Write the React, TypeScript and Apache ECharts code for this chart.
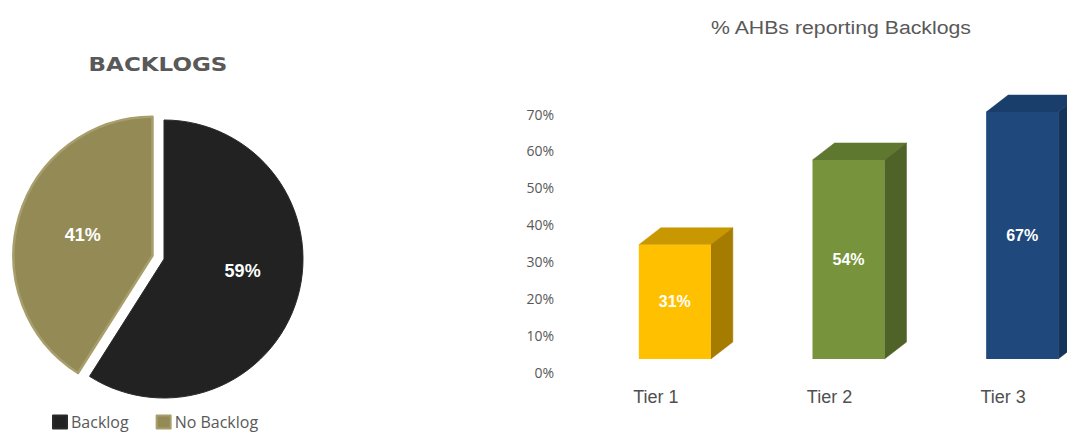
import React, { useEffect, useRef } from "react";
import * as echarts from "echarts";

// Pie: share of AHBs with / without a backlog
const pieNames = ["Backlog", "No Backlog"];
const pieValues = [59, 41];

// Bars: % AHBs reporting backlogs by tier
const tiers = ["Tier 1", "Tier 2", "Tier 3"];
const tierValues = [31, 54, 67];

// Y-axis range (percent)
const yMin = 0;
const yMax = 70;
const yStep = 10;

const pieColors = ["#222222", "#948A56"];
// front / top / side shades of each 3D bar
const barShades = [
  ["#FFC000", "#C99700", "#A67C00"],
  ["#77933C", "#5F7830", "#4F6228"],
  ["#1F497D", "#1A3E6B", "#16355C"],
];

export default function App() {
  const ref = useRef<HTMLDivElement>(null);

  useEffect(() => {
    if (!ref.current) return;
    const chart = echarts.init(ref.current, undefined, { renderer: "svg" });

    const labelOffsets = [
      [9, -8],
      [-13, -5],
    ];

    const renderBar = (params: any, api: any) => {
      const idx = params.dataIndex;
      const v = api.value(1);
      const top = api.coord([api.value(0), v]);
      const base = api.coord([api.value(0), 0]);
      const lift = 13;
      const dx = 22;
      const dy = -17;
      const fl = top[0] - 17;
      const fr = top[0] + 55;
      const ft = top[1] - lift;
      const fb = base[1] - lift;
      const shade = barShades[idx % barShades.length];
      return {
        type: "group",
        children: [
          {
            type: "polygon",
            shape: {
              points: [
                [fl, ft],
                [fr, ft],
                [fr + dx, ft + dy],
                [fl + dx, ft + dy],
              ],
            },
            style: { fill: shade[1], stroke: shade[1], lineWidth: 0.5 },
          },
          {
            type: "polygon",
            shape: {
              points: [
                [fr, ft],
                [fr + dx, ft + dy],
                [fr + dx, fb + dy],
                [fr, fb],
              ],
            },
            style: { fill: shade[2], stroke: shade[2], lineWidth: 0.5 },
          },
          {
            type: "rect",
            shape: { x: fl, y: ft, width: fr - fl, height: fb - ft },
            style: { fill: shade[0] },
          },
          {
            type: "text",
            x: (fl + fr) / 2,
            y: (ft + fb) / 2,
            style: {
              text: v + "%",
              align: "center",
              verticalAlign: "middle",
              fill: "#FFFFFF",
              font: "bold 16px 'Liberation Sans', Arial, sans-serif",
            },
          },
        ],
      };
    };

    chart.setOption({
      animation: false,
      backgroundColor: "#FFFFFF",
      graphic: [
        {
          type: "text",
          x: 158,
          y: 64,
          scaleX: 1.15,
          style: {
            text: "BACKLOGS",
            align: "center",
            verticalAlign: "middle",
            fill: "#595959",
            font: "bold 20px 'DejaVu Sans', sans-serif",
          },
        },
        {
          type: "text",
          x: 841,
          y: 27,
          scaleX: 1.12,
          style: {
            text: "% AHBs reporting Backlogs",
            align: "center",
            verticalAlign: "middle",
            fill: "#595959",
            font: "19px 'Liberation Sans', Arial, sans-serif",
          },
        },
      ],
      legend: {
        data: pieNames,
        left: 52,
        top: 414,
        padding: 0,
        icon: "rect",
        itemWidth: 14,
        itemHeight: 13,
        itemGap: 27,
        textStyle: {
          fontFamily: "'Open Sans', sans-serif",
          fontSize: 16,
          color: "#595959",
          padding: [0, 0, 0, -1],
        },
      },
      grid: {
        left: 569,
        top: 114,
        right: -23,
        bottom: 60,
        containLabel: false,
        outerBoundsMode: "none",
      },
      xAxis: {
        type: "category",
        data: tiers,
        axisLine: { show: false },
        axisTick: { show: false },
        axisLabel: {
          margin: 16,
          fontFamily: "'Liberation Sans', Arial, sans-serif",
          fontSize: 18,
          color: "#505050",
        },
      },
      yAxis: {
        type: "value",
        min: yMin,
        max: yMax,
        interval: yStep,
        splitLine: { show: false },
        axisLine: { show: false },
        axisTick: { show: false },
        axisLabel: {
          margin: 15,
          formatter: "{value}%",
          fontFamily: "'Open Sans', sans-serif",
          fontSize: 14,
          color: "#595959",
        },
      },
      series: [
        {
          type: "pie",
          center: [164, 259],
          radius: 139,
          startAngle: 90,
          clockwise: true,
          selectedMode: "single",
          selectedOffset: 12,
          emphasis: { disabled: true },
          label: {
            show: true,
            position: "inner",
            formatter: "{c}%",
            color: "#FFFFFF",
            fontFamily: "'Liberation Sans', Arial, sans-serif",
            fontWeight: "bold",
            fontSize: 18,
          },
          labelLine: { show: false },
          data: pieNames.map((name, i) => ({
            name,
            value: pieValues[i],
            selected: i === 1,
            itemStyle: {
              color: pieColors[i],
              borderColor: i === 1 ? "#A79E6C" : "#2A2A2A",
              borderWidth: i === 1 ? 2.5 : 1,
            },
            label: { offset: labelOffsets[i] },
          })),
        },
        {
          type: "custom",
          renderItem: renderBar,
          encode: { x: 0, y: 1 },
          data: tierValues.map((v, i) => [i, v]),
          clip: false,
        },
      ],
    });

    return () => chart.dispose();
  }, []);

  return (
    <div
      ref={ref}
      style={{ position: "fixed", left: 0, top: 0, width: 1067, height: 432 }}
    />
  );
}
